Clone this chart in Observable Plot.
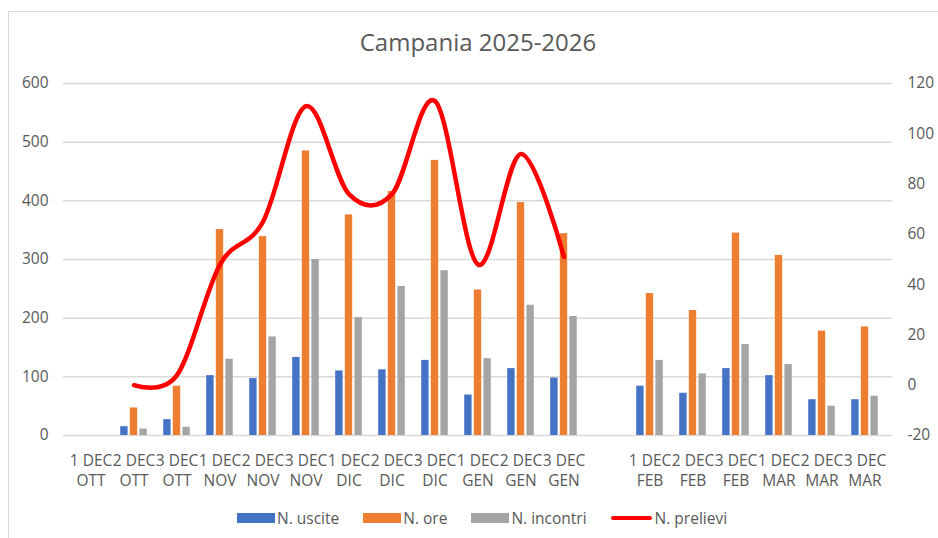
<!DOCTYPE html>
<html>
<head>
<meta charset="utf-8">
<script src="https://cdn.jsdelivr.net/npm/d3@7"></script>
<script src="https://cdn.jsdelivr.net/npm/@observablehq/plot@0.6"></script>
<style>
  html, body { margin: 0; padding: 0; background: #fff; }
  #wrap { position: relative; width: 938px; height: 538px; overflow: hidden; font-family: "Open Sans", sans-serif; color: #595959; }
  #frame { position: absolute; left: 8px; top: 11px; right: -2px; bottom: -2px; border-left: 1px solid #d9d9d9; border-top: 1px solid #d9d9d9; }
  #title { position: absolute; left: 0; width: 956px; top: 26px; line-height: 32px; font-size: 24px; text-align: center; }
  #chart { position: absolute; left: 0; top: 60px; }
  #legend { position: absolute; left: 237px; top: 507px; height: 22px; display: flex; align-items: center; font-size: 15.5px; line-height: 22px; }
  .item { display: flex; align-items: center; margin-right: 24px; }
  .sw { width: 38px; height: 10px; margin-right: 2px; }
  .ln { width: 41px; height: 4px; margin-right: 3px; border-radius: 2px; }
</style>
</head>
<body>
<div id="wrap">
  <div id="frame"></div>
  <div id="title">Campania 2025-2026</div>
  <div id="chart"></div>
  <div id="legend"></div>
</div>
<script>
// ---- data ----
const categories = [
  "1 DEC\nOTT", "2 DEC\nOTT", "3 DEC\nOTT",
  "1 DEC\nNOV", "2 DEC\nNOV", "3 DEC\nNOV",
  "1 DEC\nDIC", "2 DEC\nDIC", "3 DEC\nDIC",
  "1 DEC\nGEN", "2 DEC\nGEN", "3 DEC\nGEN",
  " ",
  "1 DEC\nFEB", "2 DEC\nFEB", "3 DEC\nFEB",
  "1 DEC\nMAR", "2 DEC\nMAR", "3 DEC\nMAR"
];
const uscite   = [null, 15, 27, 102, 97, 133, 110, 112, 128, 69, 114, 98, null, 84, 72, 114, 102, 61, 61];
const ore      = [null, 47, 84, 351, 339, 485, 376, 416, 469, 248, 397, 344, null, 242, 213, 345, 307, 178, 185];
const incontri = [null, 11, 14, 130, 168, 300, 201, 254, 281, 131, 222, 203, null, 128, 105, 155, 121, 50, 67];
const prelievi = [null, 0, 4, 48, 65, 111, 76, 76, 113, 48, 92, 51, null, null, null, null, null, null, null];
const leftTicks = [0, 100, 200, 300, 400, 500, 600];
const rightTicks = [-20, 0, 20, 40, 60, 80, 100, 120];
const seriesNames = ["N. uscite", "N. ore", "N. incontri", "N. prelievi"];
const colors = ["#4472C4", "#ED7D31", "#A5A5A5", "#FF0000"];

// ---- helpers ----
const toLeft = v => (v - rightTicks[0]) * (leftTicks[leftTicks.length - 1] / (rightTicks[rightTicks.length - 1] - rightTicks[0]));
const fromLeft = d => Math.round(d * (rightTicks[rightTicks.length - 1] - rightTicks[0]) / leftTicks[leftTicks.length - 1] + rightTicks[0]);

const rows = (arr) => categories.map((c, i) => ({cat: c, v: arr[i]})).filter(d => d.v != null);
const lineRows = categories.map((c, i) => ({cat: c, v: prelievi[i]})).filter(d => d.v != null).map(d => ({cat: d.cat, y: toLeft(d.v)}));

const W = 938, H = 450, mL = 63, mR = 46, mT = 23, mB = 75;
const bw = (W - mL - mR) / categories.length;
const barW = 8, gap = 1.6;
const groupW = 3 * barW + 2 * gap;
const inset = i => {
  const left = (bw - groupW) / 2 + i * (barW + gap);
  return {insetLeft: left, insetRight: bw - left - barW};
};

const chart = Plot.plot({
  width: W, height: H,
  marginLeft: mL, marginRight: mR, marginTop: mT, marginBottom: mB,
  style: {fontFamily: "Open Sans, sans-serif", fontSize: "15.5px", color: "#595959", background: "transparent"},
  x: {type: "band", domain: categories, padding: 0, label: null},
  y: {domain: [0, 600], label: null},
  marks: [
    Plot.gridY(leftTicks, {stroke: "#d9d9d9", strokeOpacity: 1, strokeWidth: 1.5}),
    Plot.barY(rows(uscite), {x: "cat", y: "v", fill: colors[0], ...inset(0)}),
    Plot.barY(rows(ore), {x: "cat", y: "v", fill: colors[1], ...inset(1)}),
    Plot.barY(rows(incontri), {x: "cat", y: "v", fill: colors[2], ...inset(2)}),
    Plot.line(lineRows, {x: "cat", y: "y", stroke: colors[3], strokeWidth: 4.5, curve: "cardinal", tension: 0}),
    Plot.axisY(leftTicks, {anchor: "left", tickSize: 0, tickPadding: 15, label: null}),
    Plot.axisY(rightTicks.map(toLeft), {anchor: "right", tickSize: 0, tickPadding: 15, tickFormat: fromLeft, label: null}),
    Plot.axisX({tickSize: 0, tickPadding: 16, lineHeight: 1.32, label: null})
  ]
});
document.getElementById("chart").appendChild(chart);

// ---- legend ----
const legend = document.getElementById("legend");
seriesNames.forEach((name, i) => {
  const item = document.createElement("div");
  item.className = "item";
  const sw = document.createElement("span");
  sw.className = i === 3 ? "ln" : "sw";
  sw.style.background = colors[i];
  const lab = document.createElement("span");
  lab.textContent = name;
  item.appendChild(sw);
  item.appendChild(lab);
  legend.appendChild(item);
});
</script>
</body>
</html>
